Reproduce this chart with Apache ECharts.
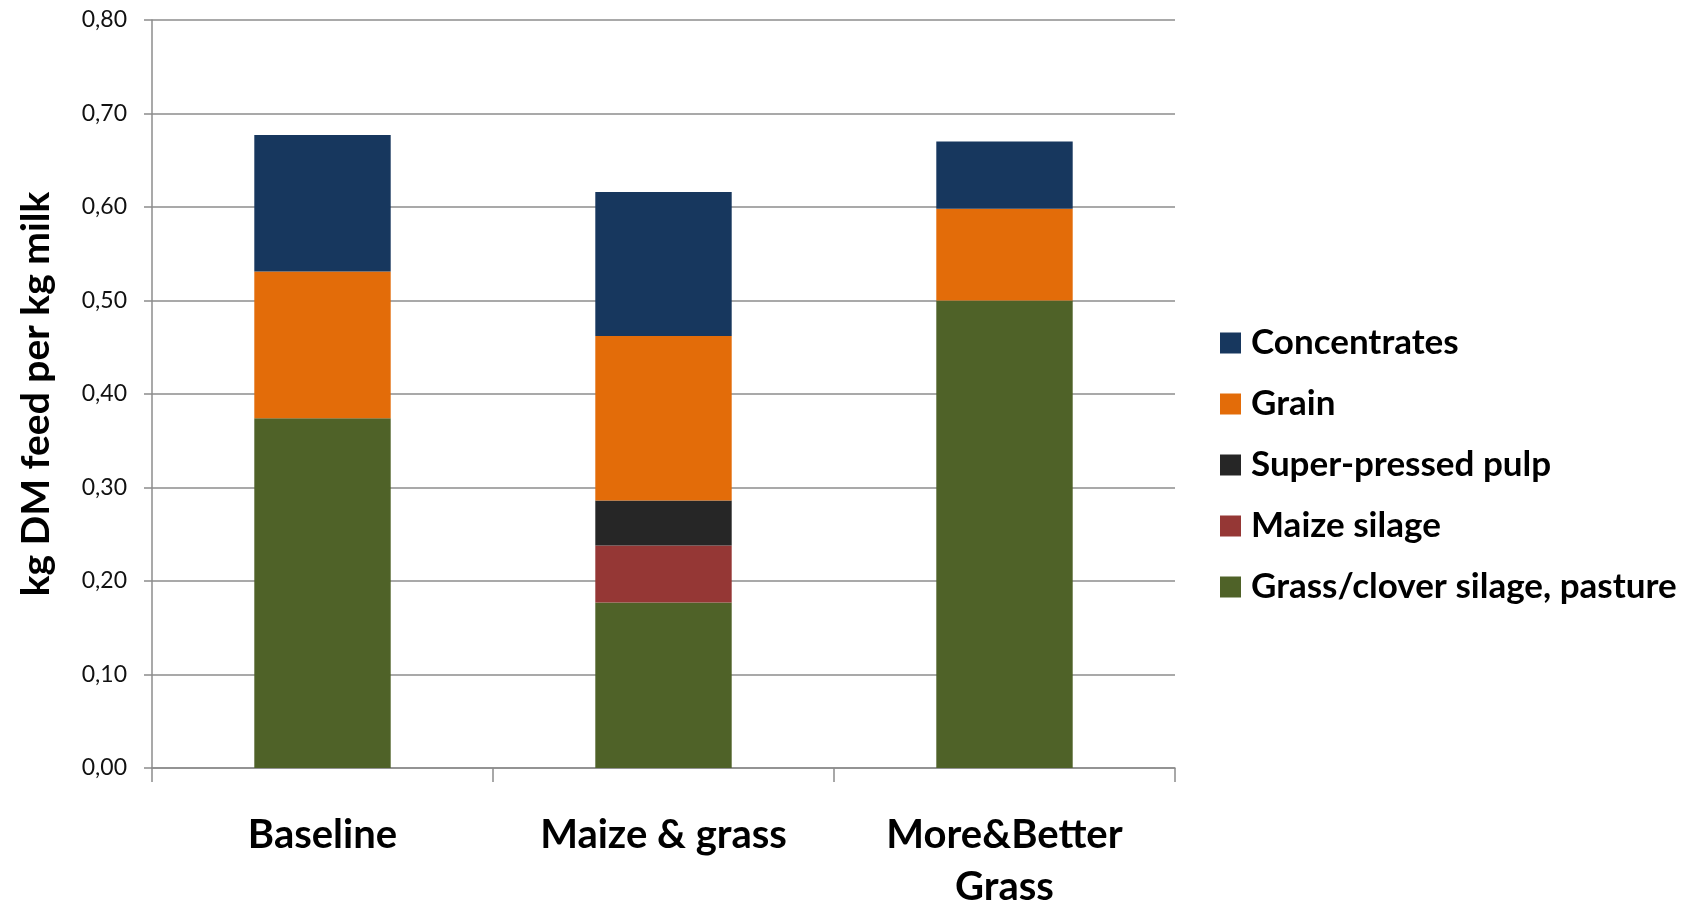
<!DOCTYPE html>
<html>
<head>
<meta charset="utf-8">
<title>Feed use per kg milk</title>
<script src="https://cdn.jsdelivr.net/npm/echarts@6/dist/echarts.min.js"></script>
<style>
  html, body { margin: 0; padding: 0; background: #ffffff; }
  #chart { width: 1688px; height: 906px; }
</style>
</head>
<body>
<div id="chart"></div>
<script>
// Feed scenarios on the x axis
const categories = ['Baseline', 'Maize & grass', 'More&Better\nGrass'];

// kg DM feed per kg milk, by feed type (bottom to top of each stack)
const grassClover = [0.374, 0.177, 0.500];
const maizeSilage = [0, 0.061, 0];
const pressedPulp = [0, 0.048, 0];
const grain = [0.157, 0.176, 0.098];
const concentrates = [0.146, 0.154, 0.072];

// Y axis ticks
const yTicks = [0, 0.1, 0.2, 0.3, 0.4, 0.5, 0.6, 0.7, 0.8];

const legendOrder = ['Concentrates', 'Grain', 'Super-pressed pulp', 'Maize silage', 'Grass/clover silage, pasture'];

const FONT = 'Lato';
const GRID_GRAY = '#8c8c8c';

function barSeries(name, data, color) {
  return {
    name: name,
    type: 'bar',
    stack: 'feed',
    data: data,
    barWidth: '40%',
    itemStyle: { color: color },
    emphasis: { disabled: true }
  };
}

const chart = echarts.init(document.getElementById('chart'));
chart.setOption({
  animation: false,
  textStyle: { fontFamily: FONT },
  grid: { left: 152, right: 513, top: 20, bottom: 138, containLabel: false, outerBoundsMode: 'none' },
  legend: {
    orient: 'vertical',
    left: 1220,
    top: 323,
    padding: 0,
    data: legendOrder,
    icon: 'rect',
    itemWidth: 21,
    itemHeight: 21,
    itemGap: 21,
    selectedMode: false,
    textStyle: { fontFamily: FONT, fontSize: 35, fontWeight: 'bold', color: '#000', lineHeight: 40, padding: [0, 0, 0, 5] }
  },
  xAxis: {
    type: 'category',
    data: categories,
    axisLine: { lineStyle: { color: GRID_GRAY, width: 1.5 } },
    axisTick: { show: true, length: 14, lineStyle: { color: GRID_GRAY, width: 1.5 } },
    axisLabel: { fontFamily: FONT, fontSize: 40, fontWeight: 'bold', color: '#000', margin: 41, lineHeight: 52, interval: 0 }
  },
  yAxis: {
    type: 'value',
    min: yTicks[0],
    max: yTicks[yTicks.length - 1],
    interval: 0.1,
    name: 'kg DM feed per kg milk',
    nameLocation: 'middle',
    nameGap: 96,
    nameRotate: 90,
    nameTextStyle: { fontFamily: FONT, fontSize: 39, fontWeight: 'bold', color: '#000' },
    axisLine: { show: true, lineStyle: { color: GRID_GRAY, width: 1.5 } },
    axisTick: { show: true, length: 8, lineStyle: { color: GRID_GRAY, width: 1.5 } },
    splitLine: { lineStyle: { color: GRID_GRAY, width: 1.5 } },
    axisLabel: {
      fontFamily: FONT, fontSize: 23, color: '#111', margin: 25,
      formatter: v => v.toFixed(2).replace('.', ',')
    }
  },
  series: [
    barSeries('Grass/clover silage, pasture', grassClover, '#4F6228'),
    barSeries('Maize silage', maizeSilage, '#953735'),
    barSeries('Super-pressed pulp', pressedPulp, '#262626'),
    barSeries('Grain', grain, '#E36C09'),
    barSeries('Concentrates', concentrates, '#17375E')
  ]
});
</script>
</body>
</html>
